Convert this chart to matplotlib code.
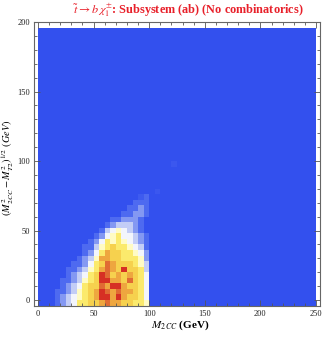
import numpy as np
import matplotlib
matplotlib.use("Agg")
import matplotlib.pyplot as plt
from matplotlib.colors import LinearSegmentedColormap
from matplotlib.ticker import MultipleLocator

plt.rcParams['font.family'] = ['Liberation Serif', 'DejaVu Serif']
plt.rcParams['mathtext.fontset'] = 'stix'

# histogram binning (GeV)
x_step, y_step = 5, 4
x_lo, x_hi = 0, 250
y_lo, y_hi = -4, 196

# occupancy levels (0 = empty .. 10 = max), columns for x bins 10..110 GeV,
# rows for y bins starting at -4 GeV, bottom row first
col_start = 10
core_levels = [
    [0, 1, 2, 3, 4, 6, 6, 7, 7, 8, 9, 8, 8, 7, 7, 6, 6, 5, 0, 0],
    [0, 1, 2, 3, 4, 5, 6, 7, 8, 10, 10, 8, 10, 8, 7, 7, 6, 4, 0, 0],
    [0, 1, 1, 2, 3, 5, 6, 7, 8, 10, 9, 8, 9, 8, 8, 7, 6, 4, 0, 0],
    [0, 0, 1, 2, 3, 4, 6, 7, 7, 9, 8, 10, 10, 8, 7, 7, 6, 4, 0, 0],
    [0, 0, 1, 1, 2, 3, 5, 6, 7, 10, 10, 8, 8, 7, 9, 7, 6, 4, 0, 0],
    [0, 0, 0, 1, 2, 3, 4, 6, 7, 10, 9, 7, 8, 7, 8, 7, 6, 4, 0, 0],
    [0, 0, 0, 1, 1, 2, 3, 5, 6, 8, 9, 8, 7, 10, 7, 7, 6, 3, 0, 0],
    [0, 0, 0, 0, 1, 1, 2, 4, 6, 7, 9, 8, 7, 7, 7, 6, 5, 3, 0, 0],
    [0, 0, 0, 0, 0, 1, 2, 3, 5, 8, 8, 7, 7, 6, 6, 6, 5, 2, 0, 0],
    [0, 0, 0, 0, 0, 0, 1, 2, 4, 6, 8, 7, 7, 6, 6, 5, 4, 2, 0, 0],
    [0, 0, 0, 0, 0, 0, 1, 1, 3, 5, 6, 7, 6, 6, 5, 4, 3, 1, 0, 0],
    [0, 0, 0, 0, 0, 0, 0, 1, 2, 4, 6, 5, 6, 5, 4, 3, 2, 1, 0, 0],
    [0, 0, 0, 0, 0, 0, 0, 0, 1, 2, 4, 5, 6, 4, 4, 3, 2, 1, 0, 0],
    [0, 0, 0, 0, 0, 0, 0, 0, 0, 1, 3, 4, 5, 4, 3, 2, 1, 0, 0, 0],
    [0, 0, 0, 0, 0, 0, 0, 0, 0, 0, 1, 2, 3, 3, 3, 2, 1, 0, 0, 0],
    [0, 0, 0, 0, 0, 0, 0, 0, 0, 0, 0, 1, 1, 2, 2, 2, 1, 0, 0, 0],
    [0, 0, 0, 0, 0, 0, 0, 0, 0, 0, 0, 0, 0, 1, 1, 2, 2, 1, 0, 0],
    [0, 0, 0, 0, 0, 0, 0, 0, 0, 0, 0, 0, 0, 0, 1, 1, 2, 1, 0, 0],
    [0, 0, 0, 0, 0, 0, 0, 0, 0, 0, 0, 0, 0, 0, 0, 1, 1, 1, 0, 0],
    [0, 0, 0, 0, 0, 0, 0, 0, 0, 0, 0, 0, 0, 0, 0, 0, 1, 1, 0, 0],
]

# a few isolated faint bins (x GeV, y GeV, level)
stray_x = [90, 105, 120]
stray_y = [72, 76, 96]
stray_level = [0.4, 0.3, 0.3]

x_ticks = [0, 50, 100, 150, 200, 250]
y_ticks = [0, 50, 100, 150, 200]

level_colors = ['#3350ee', '#4f6bf0', '#8498f2', '#c4cef6', '#f3f5fc', '#fffbc6',
                '#fbea6c', '#f6d24e', '#eea63f', '#e06c33', '#d63024']

# build the full grid
x_edges = np.arange(x_lo, x_hi + x_step, x_step)
y_edges = np.arange(y_lo, y_hi + y_step, y_step)
grid = np.zeros((len(y_edges) - 1, len(x_edges) - 1))
c0 = (col_start - x_lo) // x_step
core = np.array(core_levels, dtype=float)
grid[:core.shape[0], c0:c0 + core.shape[1]] = core
for sx, sy, lv in zip(stray_x, stray_y, stray_level):
    grid[(sy - y_lo) // y_step, (sx - x_lo) // x_step] = lv

cmap = LinearSegmentedColormap.from_list('temp', level_colors)

fig = plt.figure(figsize=(3.27, 3.37), dpi=100)
ax = fig.add_axes([34 / 327, 1 - 306 / 337, 286 / 327, 284 / 337])
ax.pcolormesh(x_edges, y_edges, grid, cmap=cmap, vmin=0, vmax=10, shading='flat')

ax.set_xlim(-3.6, 253.6)
ax.set_ylim(-4.3, 200)
ax.set_xticks(x_ticks)
ax.set_yticks(y_ticks)
ax.xaxis.set_minor_locator(MultipleLocator(10))
ax.yaxis.set_minor_locator(MultipleLocator(10))
ax.tick_params(which='both', direction='in', top=True, right=True, colors='#555555',
               labelsize=6, labelcolor='#222222', width=0.6)
ax.tick_params(which='major', length=4, pad=3)
ax.tick_params(which='minor', length=2)
for sp in ax.spines.values():
    sp.set_color('#666666')
    sp.set_linewidth(0.8)

ax.set_xlabel(r'$M_{2\,CC}$ (GeV)', fontsize=8, fontweight='bold')
ax.xaxis.set_label_coords((180 - 34) / 286, -(318 - 306) / 284)
ax.set_ylabel(r'$(M^2_{2\,CC} - M^2_{T2})^{1/2}$ $(GeV)$', fontsize=7.5)
ax.yaxis.set_label_coords(-(34 - 16) / 286, (306 - 168) / 284)
fig.text(188 / 327, 1 - 10 / 337, r'$\tilde{t}\rightarrow b\,\chi^{\pm}_{1}$: Subsystem (ab) (No combinatorics)',
         ha='center', va='center', color='#e8202a', fontsize=8.8, fontweight='bold')

fig.savefig('out.png', dpi=100)
